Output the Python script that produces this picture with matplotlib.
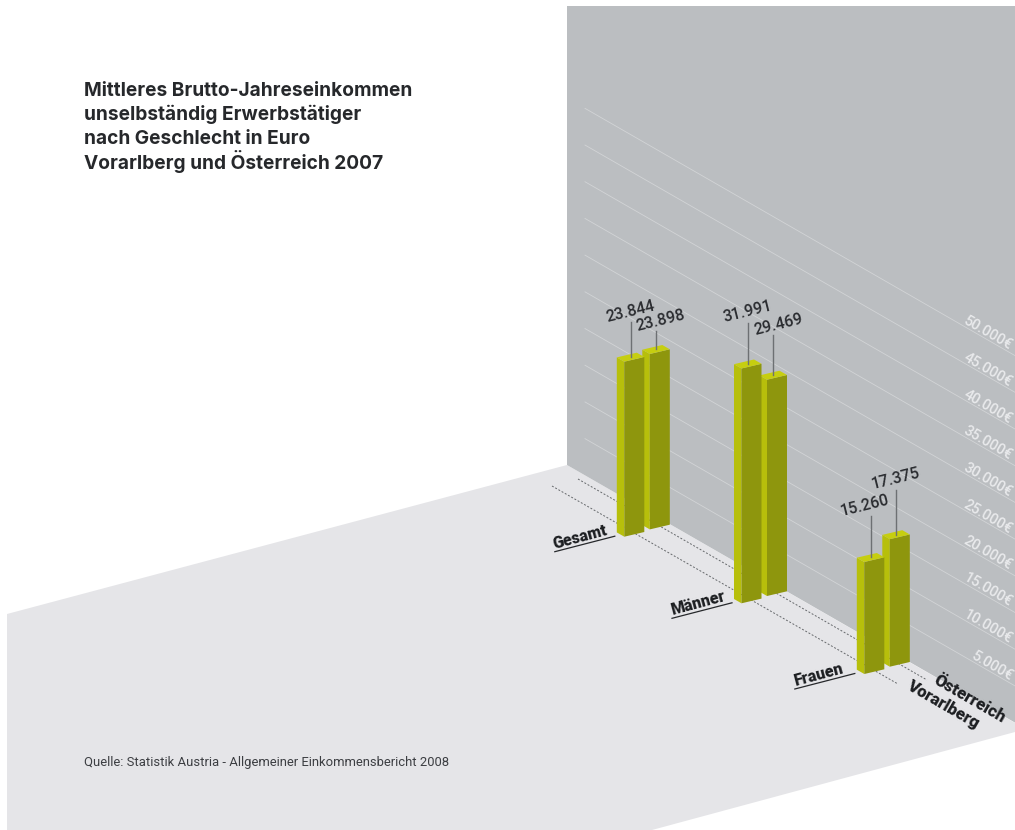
import matplotlib
matplotlib.use('Agg')
import matplotlib.pyplot as plt

plt.rcParams['font.family'] = ['Roboto', 'DejaVu Sans']

categories = ['Gesamt', 'Männer', 'Frauen']
vorarlberg = [23844, 31991, 15260]
oesterreich = [23898, 29469, 17375]
grid_values = [5000, 10000, 15000, 20000, 25000, 30000, 35000, 40000, 45000, 50000]

title_lines = ['Mittleres Brutto-Jahreseinkommen',
               'unselbständig Erwerbstätiger',
               'nach Geschlecht in Euro',
               'Vorarlberg und Österreich 2007']
source = 'Quelle: Statistik Austria - Allgemeiner Einkommensbericht 2008'

# colours
WALL = '#bbbec1'
FLOOR = '#e5e5e8'
BAR_LEFT = '#b7bf0b'
BAR_RIGHT = '#8e960d'
BAR_TOP = '#c6ce10'
TEXT = '#2a2c30'

# projection: pixels per euro and slope of the wall foot
PX_PER_EURO = 367.0 / 50000
WALL_SLOPE = 0.575
WALL_X = 567
WALL_FOOT = 465

# front corner of each Vorarlberg bar, the Oesterreich row sits behind it
front_x = [624.3, 741.5, 864.3]
front_y = [536.7, 603.3, 674.0]
ROW_DX, ROW_DY = 25.5, -7.3
LEFT_DX, LEFT_DY = -7.5, -4.3
RIGHT_DX, RIGHT_DY = 20.0, -4.7

# leader length and label shift per bar
leader_v = [35, 41, 41]
leader_o = [18, 40, 45]
shift_v = [0, 0, -6]
shift_o = [4, 5, 0]


def wall_y(x, value):
    return WALL_FOOT + (x - WALL_X) * WALL_SLOPE - value * PX_PER_EURO


def euro(value):
    return f'{value:,}'.replace(',', '.')


def draw_bar(ax, fx, fy, value, leader, shift):
    h = value * PX_PER_EURO
    lx, ly = fx + LEFT_DX, fy + LEFT_DY
    rx, ry = fx + RIGHT_DX, fy + RIGHT_DY
    bx, by = rx + LEFT_DX, ry + LEFT_DY
    ax.fill([lx, fx, fx, lx], [ly, fy, fy - h, ly - h], color=BAR_LEFT, lw=0, zorder=4)
    ax.fill([fx, rx, rx, fx], [fy, ry, ry - h, fy - h], color=BAR_RIGHT, lw=0, zorder=4)
    ax.fill([lx, fx, rx, bx], [ly - h, fy - h, ry - h, by - h], color=BAR_TOP, lw=0, zorder=4)

    # leader from the middle of the cap up to the value
    cx = (lx + rx) / 2
    cy = (ly + ry) / 2 - h
    ax.plot([cx, cx], [cy, cy - leader], color='#6d7073', lw=1.0, zorder=5)
    ax.text(cx + shift, cy - leader - 11, euro(value), fontsize=11.5, weight='medium',
            color=TEXT, rotation=14, ha='center', va='center',
            rotation_mode='anchor', zorder=6)


fig = plt.figure(figsize=(10.15, 8.3), dpi=100)
ax = fig.add_axes([0, 0, 1, 1])
ax.set_xlim(0, 1015)
ax.set_ylim(830, 0)
ax.axis('off')

# floor and back wall
ax.fill([567, 7, 7, 652, 1015, 1015], [465, 614, 830, 830, 732, 723], color=FLOOR, lw=0, zorder=1)
ax.fill([567, 1015, 1015, 567], [6, 6, wall_y(1015, 0), 465], color=WALL, lw=0, zorder=2)

for v in grid_values:
    ax.plot([585, 1015], [wall_y(585, v), wall_y(1015, v)], color='#d2d4d6', lw=0.6, zorder=3)
    ax.text(1009, wall_y(1009, v) - 2, euro(v) + '€', fontsize=10.5, weight='medium',
            color='#e9eaec', rotation=-30, ha='right', va='baseline',
            rotation_mode='anchor', zorder=3)

# row guides on the floor
ax.plot([552, 898], [486, 684], color='#66696c', lw=0.7, ls=(0, (2, 1.8)), zorder=3)
ax.plot([578, 927], [479, 680], color='#66696c', lw=0.7, ls=(0, (2, 1.8)), zorder=3)

for i, name in enumerate(categories):
    fx, fy = front_x[i], front_y[i]
    draw_bar(ax, fx + ROW_DX, fy + ROW_DY, oesterreich[i], leader_o[i], shift_o[i])
    draw_bar(ax, fx, fy, vorarlberg[i], leader_v[i], shift_v[i])

    # category name on its underline
    ux, uy = fx - 69.5, fy + 15
    ax.plot([ux, ux + 60], [uy, uy - 15.5], color='#26282b', lw=0.9, zorder=5)
    ax.text(ux, uy - 3, name, fontsize=11.5, weight='black', color='#1c1e21',
            rotation=15, ha='left', va='baseline', rotation_mode='anchor', zorder=6)

ax.text(932, 683, 'Österreich', fontsize=12.2, weight='black', color='#1c1e21',
        rotation=-30, ha='left', va='baseline', rotation_mode='anchor', zorder=6)
ax.text(906, 688, 'Vorarlberg', fontsize=12, weight='black', color='#1c1e21',
        rotation=-30, ha='left', va='baseline', rotation_mode='anchor', zorder=6)

for n, line in enumerate(title_lines):
    ax.text(84, 96 + n * 24.2, line, fontsize=13.75, weight='bold', color='#26282b',
            family=['Inter', 'DejaVu Sans'], ha='left', va='baseline', zorder=6)

ax.text(84, 766, source, fontsize=9.4, color='#3c3e42', ha='left', va='baseline', zorder=6)

fig.savefig('out.png', dpi=100)
